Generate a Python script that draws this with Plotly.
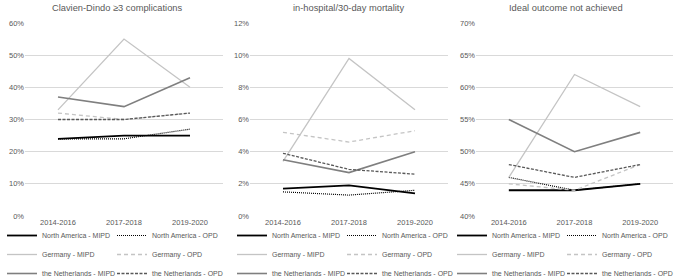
import plotly.graph_objects as go

periods = ["2014-2016", "2017-2018", "2019-2020"]

series_names = [
    "North America - MIPD", "North America - OPD",
    "Germany - MIPD", "Germany - OPD",
    "the Netherlands - MIPD", "the Netherlands - OPD",
]

# Clavien-Dindo >=3 complications (%)
cd_na_mipd = [24, 25, 25]
cd_na_opd = [24, 24, 27]
cd_de_mipd = [33, 55, 40]
cd_de_opd = [32, 30, 32]
cd_nl_mipd = [37, 34, 43]
cd_nl_opd = [30, 30, 32]

# in-hospital/30-day mortality (%)
mo_na_mipd = [1.7, 1.9, 1.4]
mo_na_opd = [1.5, 1.3, 1.6]
mo_de_mipd = [3.4, 9.8, 6.6]
mo_de_opd = [5.2, 4.6, 5.3]
mo_nl_mipd = [3.5, 2.7, 4.0]
mo_nl_opd = [3.9, 2.9, 2.6]

# Ideal outcome not achieved (%)
io_na_mipd = [44, 44, 45]
io_na_opd = [46, 44, 45]
io_de_mipd = [46, 62, 57]
io_de_opd = [45, 44, 48]
io_nl_mipd = [55, 50, 53]
io_nl_opd = [48, 46, 48]

panel_titles = ["Clavien-Dindo \u22653 complications", "in-hospital/30-day mortality",
                "Ideal outcome not achieved"]
panel_data = [
    [cd_na_mipd, cd_na_opd, cd_de_mipd, cd_de_opd, cd_nl_mipd, cd_nl_opd],
    [mo_na_mipd, mo_na_opd, mo_de_mipd, mo_de_opd, mo_nl_mipd, mo_nl_opd],
    [io_na_mipd, io_na_opd, io_de_mipd, io_de_opd, io_nl_mipd, io_nl_opd],
]
y_ranges = [[0, 60], [0, 12], [40, 70]]
y_dticks = [10, 2, 5]

styles = [
    dict(color="#000000", width=1.8, dash="solid"),
    dict(color="#000000", width=1.2, dash="1px,1px"),
    dict(color="#c4c4c4", width=1.3, dash="solid"),
    dict(color="#c4c4c4", width=1.3, dash="4px,3px"),
    dict(color="#7f7f7f", width=1.6, dash="solid"),
    dict(color="#595959", width=1.3, dash="3px,1.5px"),
]

W, H = 676, 279
FONT = "Liberation Sans, Arial, sans-serif"
TXT = "#595959"

x_px = [(25, 223), (250, 448), (476, 673)]
y_top, y_bot = 23, 216
title_x = [117, 348, 566]
legend_x = [(2, 112), (232, 342), (452, 562)]
legend_top = 221

fig = go.Figure()
for p in range(3):
    ax = "" if p == 0 else str(p + 1)
    for s in range(6):
        leg_idx = p * 2 + (s % 2)
        leg = "legend" if leg_idx == 0 else f"legend{leg_idx + 1}"
        fig.add_trace(go.Scatter(
            x=periods, y=panel_data[p][s], mode="lines",
            name=series_names[s], line=styles[s],
            xaxis="x" + ax, yaxis="y" + ax, legend=leg,
            hoverinfo="skip",
        ))

layout = dict(
    width=W, height=H,
    margin=dict(l=0, r=0, t=0, b=0, autoexpand=False),
    paper_bgcolor="white", plot_bgcolor="white",
    font=dict(family=FONT, size=8, color=TXT),
    annotations=[],
)
for p in range(3):
    ax = "" if p == 0 else str(p + 1)
    x0, x1 = x_px[p]
    layout["xaxis" + ax] = dict(
        domain=[x0 / W, x1 / W], anchor="y" + ax, type="category",
        range=[-0.5, 2.5], showgrid=False, zeroline=False, showline=False,
        ticks="", tickfont=dict(size=7.5, color=TXT), fixedrange=True,
    )
    layout["yaxis" + ax] = dict(
        domain=[1 - y_bot / H, 1 - y_top / H], anchor="x" + ax,
        range=y_ranges[p], dtick=y_dticks[p], ticksuffix="%",
        showgrid=True, gridcolor="#d9d9d9", gridwidth=1,
        zeroline=False, showline=False, ticks="",
        tickfont=dict(size=7.5, color=TXT), fixedrange=True,
    )
    layout["annotations"].append(dict(
        text=panel_titles[p], x=title_x[p] / W, y=1 - 8 / H,
        xref="paper", yref="paper", showarrow=False,
        xanchor="center", yanchor="middle",
        font=dict(size=9.3, color=TXT, family=FONT),
    ))
    for c in range(2):
        leg_idx = p * 2 + c
        key = "legend" if leg_idx == 0 else f"legend{leg_idx + 1}"
        layout[key] = dict(
            x=legend_x[p][c] / W, y=1 - legend_top / H,
            xanchor="left", yanchor="top", orientation="v",
            bgcolor="rgba(0,0,0,0)", borderwidth=0,
            font=dict(size=7, color=TXT, family=FONT),
            tracegroupgap=0, itemclick=False, itemdoubleclick=False,
        )

fig.update_layout(**layout)
fig.write_html(
    "out.html",
    config={"displayModeBar": False},
    post_script="document.body.style.margin='0';document.body.style.overflow='hidden';",
)
